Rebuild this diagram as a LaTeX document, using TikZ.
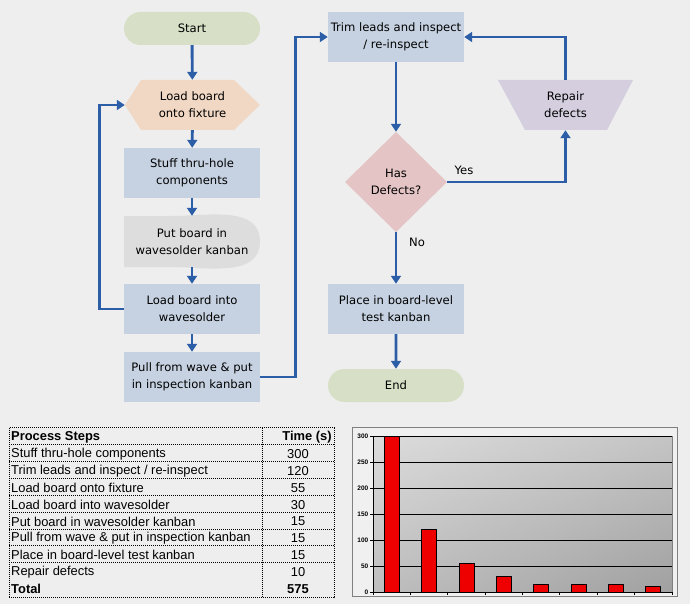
\documentclass[tikz,border=0pt]{standalone}
\usepackage{fontspec}
\setmainfont{DejaVu Sans}
\newfontfamily\arialfont{Liberation Sans}
\usetikzlibrary{arrows.meta,shapes.misc,shadings}
\definecolor{bg}{RGB}{238,238,238}
\definecolor{capgreen}{RGB}{215,224,199}
\definecolor{hexpeach}{RGB}{241,216,196}
\definecolor{boxblue}{RGB}{198,210,225}
\definecolor{kangray}{RGB}{221,221,221}
\definecolor{diapink}{RGB}{228,196,196}
\definecolor{replav}{RGB}{212,206,222}
\definecolor{arrowblue}{RGB}{44,94,168}
\definecolor{barred}{RGB}{238,0,0}
\definecolor{chartbg}{RGB}{240,240,240}
\definecolor{framegray}{RGB}{128,128,128}
\definecolor{shUL}{RGB}{220,220,220}
\definecolor{shUR}{RGB}{196,196,196}
\definecolor{shLL}{RGB}{190,190,190}
\definecolor{shLR}{RGB}{160,160,160}
\begin{document}
\begin{tikzpicture}[x=1pt,y=-1pt,
  flowtext/.style={font=\fontsize{11.6}{17}\selectfont, align=center, text=black, inner sep=0pt},
  box/.style={flowtext, rectangle, minimum width=136pt, minimum height=50pt, fill=boxblue},
  ghost/.style={flowtext, rectangle},
  capsule/.style={flowtext, rounded rectangle, minimum width=136pt, minimum height=33pt, fill=capgreen},
  conn/.style={draw=arrowblue, line width=2.9pt, -{Triangle[length=8pt,width=10pt]}},
  lbl/.style={font=\fontsize{11.6}{13}\selectfont, inner sep=0pt},
  tbl/.style={draw=black, line width=0.8pt, dash pattern=on 1pt off 1pt},
  cell/.style={font=\arialfont\fontsize{12.9}{14}\selectfont, inner sep=0pt},
  hcell/.style={cell, font=\arialfont\bfseries\fontsize{12.9}{14}\selectfont},
  ylab/.style={font=\arialfont\bfseries\fontsize{6.5}{7}\selectfont, inner sep=0pt, anchor=east},
  bar/.style={fill=barred, draw=black, line width=0.8pt}]
\useasboundingbox (0,0) rectangle (690,604);
\fill[bg] (0,0) rectangle (690,604);

% ---------- left column ----------
\node[capsule] (start) at (192,28.5) {Start};
\fill[hexpeach] (125,105) -- (141,80) -- (234,80) -- (260,105) -- (234,130) -- (141,130) -- cycle;
\node[ghost, minimum width=135pt, minimum height=50pt] (load) at (192.5,105) {Load board\\onto fixture};
\node[box] (stuff) at (192,173) {Stuff thru-hole\\components};
\fill[kangray] (124,216) -- (170,216) to[out=0,in=90] (260,241.5) to[out=-90,in=0] (170,267) -- (124,267) -- cycle;
\node[ghost, minimum width=136pt, minimum height=51pt] (kanban) at (192,241.5) {Put board in\\wavesolder kanban};
\node[box] (wave) at (192,309) {Load board into\\wavesolder};
\node[box] (pull) at (192,377) {Pull from wave \& put\\in inspection kanban};

% ---------- right column ----------
\node[box] (trim) at (396,37) {Trim leads and inspect\\/ re-inspect};
\fill[diapink] (396,132) -- (447,182) -- (396,232) -- (345,182) -- cycle;
\node[ghost, minimum width=102pt, minimum height=100pt] (dia) at (396,182) {Has\\Defects?};
\fill[replav] (498,80) -- (633,80) -- (607,130) -- (525,130) -- cycle;
\node[ghost, minimum width=135pt, minimum height=50pt] (repair) at (565.5,105) {Repair\\defects};
\node[box] (place) at (396,309) {Place in board-level\\test kanban};
\node[capsule] (end) at (396,385.5) {End};

% ---------- connectors ----------
\draw[conn] (start) -- (load);
\draw[conn] (load) -- (stuff);
\draw[conn] (stuff) -- (kanban);
\draw[conn] (kanban) -- (wave);
\draw[conn] (wave) -- (pull);
\draw[conn] (wave.west) -- ++(-24,0) |- (load.west);
\draw[conn] (pull.east) -- ++(35,0) |- (trim.west);
\draw[conn] (trim) -- (dia);
\draw[conn] (dia.east) -| (repair.south);
\draw[conn] (repair.north) |- (trim.east);
\draw[conn] (dia.south) -- (place);
\draw[conn] (place) -- (end);
\node[lbl] (yes) at (464,170) {Yes};
\node[lbl] (no) at (417,242) {No};

% ---------- table ----------
\draw[tbl] (9,427.5) rectangle (334,597.5);
\foreach \i in {1,...,8} \draw[tbl] (9,427.5+16.9*\i) -- (334,427.5+16.9*\i);
\draw[tbl] (262,427.5) -- (262,597.5);
\node[hcell, anchor=west] (h1) at (11,437) {Process Steps};
\node[hcell] (h2) at (307,437) {Time (s)};
\node[cell, anchor=west] (a1) at (11,453.9) {Stuff thru-hole components};
\node[cell] (b1) at (298,453.9) {300};
\node[cell, anchor=west] (a2) at (11,470.8) {Trim leads and inspect / re-inspect};
\node[cell] (b2) at (298,470.8) {120};
\node[cell, anchor=west] (a3) at (11,487.7) {Load board onto fixture};
\node[cell] (b3) at (298,487.7) {55};
\node[cell, anchor=west] (a4) at (11,504.6) {Load board into wavesolder};
\node[cell] (b4) at (298,504.6) {30};
\node[cell, anchor=west] (a5) at (11,521.5) {Put board in wavesolder kanban};
\node[cell] (b5) at (298,521.5) {15};
\node[cell, anchor=west] (a6) at (11,538.4) {Pull from wave \& put in inspection kanban};
\node[cell] (b6) at (298,538.4) {15};
\node[cell, anchor=west] (a7) at (11,555.3) {Place in board-level test kanban};
\node[cell] (b7) at (298,555.3) {15};
\node[cell, anchor=west] (a8) at (11,572.2) {Repair defects};
\node[cell] (b8) at (298,572.2) {10};
\node[hcell, anchor=west] (a9) at (11,589.3) {Total};
\node[hcell] (b9) at (298,589.3) {575};

% ---------- chart ----------
\filldraw[fill=chartbg, draw=framegray, line width=1pt] (352.5,427.5) rectangle (677.5,596.5);
\shade[upper left=shUL, upper right=shUR, lower left=shLL, lower right=shLR] (373,436) rectangle (672,592);
\draw[framegray, line width=0.8pt] (373,436) rectangle (672,592);
\foreach \v in {50,100,...,300} \draw[black, line width=0.9pt] (373,592-0.52*\v) -- (672,592-0.52*\v);
\foreach \v in {0,50,...,300} {
  \draw[black, line width=0.8pt] (370,592-0.52*\v) -- (373,592-0.52*\v);
  \node[ylab] at (368.5,592-0.52*\v) {\v};
}
\draw[black, line width=0.9pt] (373,436) -- (373,592) -- (672,592);
\foreach \k in {0,...,8} \draw[black, line width=0.8pt] (373+37.375*\k,592) -- (373+37.375*\k,595);
\foreach \v [count=\k from 0] in {300,120,55,30,15,15,15,10}
  \draw[bar] (373+37.375*\k+18.7-7.5,592) rectangle (373+37.375*\k+18.7+7.5,592-0.52*\v);
\end{tikzpicture}
\end{document}
